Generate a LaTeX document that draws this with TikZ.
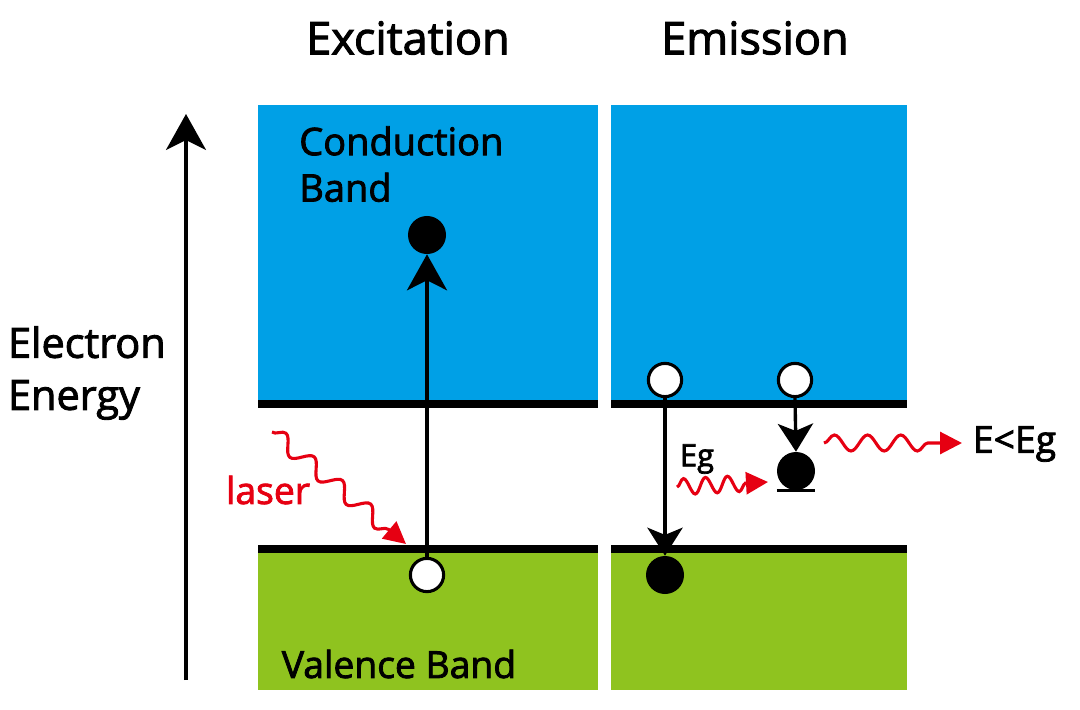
\documentclass[tikz,border=0pt]{standalone}
\usepackage{fontspec}
\setmainfont{Open Sans}[FakeBold=2.2]
\usetikzlibrary{arrows.meta,decorations.pathmorphing}
\definecolor{cband}{RGB}{0,160,230}
\definecolor{vband}{RGB}{143,195,31}
\definecolor{laserred}{RGB}{230,0,18}
\begin{document}
\begin{tikzpicture}[x=0.025cm,y=-0.025cm,
  edge/.style={line width=5pt},
  filledc/.style={circle,fill=black,minimum size=0.95cm,inner sep=0pt},
  openc/.style={circle,draw=black,fill=white,line width=2.2pt,minimum size=0.83cm,inner sep=0pt},
  bigarrow/.style={line width=2.4pt,-{Stealth[length=0.9cm,width=1.0cm,inset=0.25cm]}},
  smallarrow/.style={line width=2.4pt,-{Stealth[length=0.7cm,width=0.88cm,inset=0.18cm]}},
  wave/.style={laserred,line width=2.2pt,decorate,
    decoration={snake,segment length=#1,amplitude=0.2cm,post length=0.55cm},
    -{Triangle[length=0.55cm,width=0.55cm]}},
  title/.style={font=\fontsize{32}{36}\selectfont},
  label/.style={font=\fontsize{26.5}{33}\selectfont},
]
\useasboundingbox (0,0) rectangle (1080,710);
% bands
\fill[cband] (258,105) rectangle (598,404);
\fill[vband] (258,550) rectangle (598,690);
\fill[cband] (611,105) rectangle (907,404);
\fill[vband] (611,550) rectangle (907,690);
\draw[edge] (258,404) -- (598,404);
\draw[edge] (258,549) -- (598,549);
\draw[edge] (611,404) -- (907,404);
\draw[edge] (611,549) -- (907,549);
% titles
\node[title] (t1) at (408,38) {Excitation};
\node[title] (t2) at (755,38) {Emission};
% energy axis
\coordinate (ab) at (186,680);
\coordinate (at) at (186,114);
\draw[bigarrow] (ab) -- (at);
\node[label,anchor=west,align=left,font=\fontsize{29.5}{37}\selectfont] (ee) at (3,373) {Electron\\Energy};
% band labels
\node[label,anchor=north west,align=left,inner sep=0pt,font=\fontsize{27}{33}\selectfont] (cb) at (299,126) {Conduction\\Band};
\node[label] (vb) at (399,664) {Valence Band};
% excitation
\node[filledc] (e1) at (427,235) {};
\node[openc] (h1) at (427,575) {};
\draw[bigarrow] (h1.north) -- (e1.south);
\coordinate (ls) at (272,432);
\coordinate (le) at (406,544);
\draw[wave=0.92cm] (ls) -- (le);
\node[label,text=laserred] (lz) at (268,490) {laser};
% emission
\node[openc] (h2) at (665,380) {};
\node[openc] (h3) at (795,380) {};
\node[filledc] (e2) at (665,575) {};
\node[filledc] (e3) at (796,471) {};
\draw[smallarrow] (h2.south) -- (e2.north);
\draw[smallarrow] (h3.south) -- (e3.north);
\draw[line width=2.4pt] ([xshift=-0.48cm]e3.south) -- ([xshift=0.48cm]e3.south);
\node[font=\fontsize{22}{26}\selectfont] (eg) at (697,459) {Eg};
\coordinate (ms) at (677,487);
\coordinate (me) at (768,482);
\draw[wave=0.55cm] (ms) -- (me);
\coordinate (rs) at (824,443);
\coordinate (re) at (962,443);
\draw[wave=0.83cm] (rs) -- (re);
\node[label,anchor=west] (el) at (968,444) {E<Eg};
\end{tikzpicture}
\end{document}
